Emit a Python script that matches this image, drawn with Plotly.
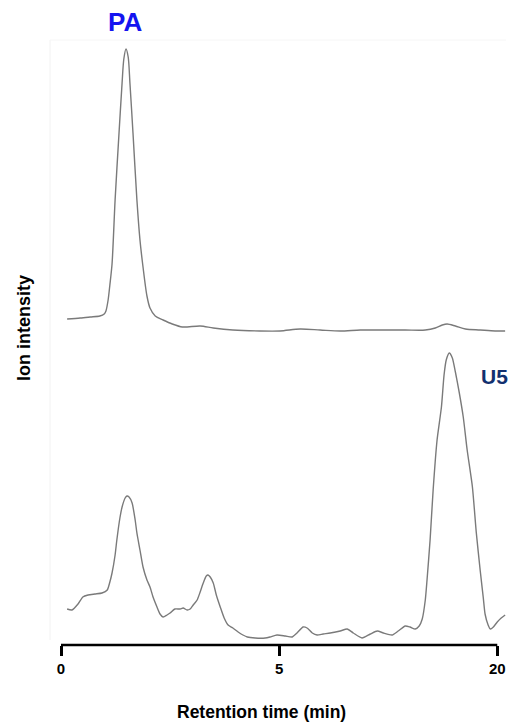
import plotly.graph_objects as go

# Retention time (axis units) and ion intensity for the PA standard trace
pa_time = [0.14, 0.44, 0.67, 0.89, 0.99, 1.03, 1.08, 1.12, 1.17, 1.24, 1.33, 1.40,
           1.44, 1.49, 1.54, 1.58, 1.65, 1.74, 1.81, 1.88, 1.97, 2.04, 2.16, 2.34,
           2.55, 2.78, 3.19, 3.49, 3.94, 4.56, 5.02, 5.48, 5.94, 6.40, 6.86, 7.32,
           7.89, 8.35, 8.58, 8.74, 8.85, 9.04, 9.27, 9.61, 9.95, 10.18]
pa_signal = [12, 13, 14, 15, 17, 20, 31, 46, 67, 131, 198, 248,
             272, 282, 274, 248, 198, 131, 91, 64, 35, 23, 15, 11,
             7, 4, 5, 3, 1, 0, 0, 2, 1, 0, 1, 1,
             1, 1, 3, 6, 7, 5, 2, 1, 0, 0]

# Retention time (axis units) and ion intensity for the U5 sample trace
u5_time = [0.14, 0.25, 0.39, 0.50, 0.62, 0.78, 0.94, 1.06, 1.12, 1.17, 1.24, 1.28,
           1.35, 1.40, 1.47, 1.51, 1.56, 1.63, 1.70, 1.74, 1.81, 1.88, 1.97, 2.04,
           2.11, 2.20, 2.27, 2.34, 2.43, 2.50, 2.61, 2.73, 2.80, 2.89, 2.96, 3.03,
           3.12, 3.19, 3.26, 3.33, 3.37, 3.42, 3.49, 3.56, 3.65, 3.74, 3.83, 3.94,
           4.06, 4.17, 4.27, 4.45, 4.68, 4.79, 4.95, 5.14, 5.30, 5.41, 5.55, 5.64,
           5.76, 5.87, 6.01, 6.17, 6.40, 6.56, 6.70, 6.90, 7.09, 7.25, 7.39, 7.59,
           7.73, 7.89, 8.00, 8.12, 8.21, 8.28, 8.35, 8.39, 8.46, 8.53, 8.62, 8.72,
           8.78, 8.83, 8.90, 8.97, 9.04, 9.13, 9.22, 9.31, 9.43, 9.52, 9.61, 9.68,
           9.72, 9.79, 9.84, 9.91, 10.00, 10.09, 10.18]
u5_signal = [36, 35, 41, 48, 50, 51, 52, 55, 63, 72, 90, 105,
             127, 138, 147, 149, 148, 142, 125, 112, 95, 78, 65, 58,
             48, 38, 31, 28, 30, 32, 36, 36, 37, 35, 36, 40,
             45, 53, 62, 69, 70, 68, 62, 50, 38, 27, 20, 17,
             13, 10, 8, 7, 7, 8, 10, 9, 8, 12, 18, 17,
             12, 10, 11, 12, 14, 16, 12, 7, 11, 14, 12, 10,
             14, 19, 18, 16, 19, 26, 45, 65, 105, 155, 205, 238,
             270, 285, 292, 287, 273, 252, 228, 195, 158, 112, 74, 47,
             31, 20, 16, 18, 23, 27, 30]

# Vertical stacking of the two chromatograms
pa_offset = 314
u5_offset = 0

tick_vals = [0, 5, 10]
tick_text = ["0", "5", "20"]

line_color = "#7a7a7a"

fig = go.Figure()
fig.add_trace(go.Scatter(
    x=pa_time, y=[v + pa_offset for v in pa_signal], mode="lines",
    line=dict(color=line_color, width=1.4, shape="spline", smoothing=0.8),
    showlegend=False, hoverinfo="skip"))
fig.add_trace(go.Scatter(
    x=u5_time, y=[v + u5_offset for v in u5_signal], mode="lines",
    line=dict(color=line_color, width=1.4, shape="spline", smoothing=0.6),
    showlegend=False, hoverinfo="skip"))

L, R, T, B = 61, 7, 40, 81
W, H = 513, 726
pw = W - L - R
ph = H - T - B

def px_x(px):
    return (px - L) / pw

def px_y(py):
    return (H - B - py) / ph

fig.update_layout(
    width=W, height=H,
    margin=dict(l=L, r=R, t=T, b=B, pad=0),
    plot_bgcolor="white", paper_bgcolor="white",
    font=dict(family="Arial, Liberation Sans, sans-serif", color="black"),
    xaxis=dict(
        range=[0, 10.2], showgrid=False, zeroline=False, showline=False,
        tickmode="array", tickvals=tick_vals, ticktext=tick_text,
        ticks="outside", ticklen=10, tickwidth=2.5, tickcolor="black",
        tickfont=dict(size=15, weight="bold", color="black"),
        fixedrange=True,
    ),
    yaxis=dict(
        range=[0, ph], showgrid=False, zeroline=False, showline=False,
        showticklabels=False, ticks="", fixedrange=True,
    ),
    shapes=[
        # x axis baseline, ending at the last tick
        dict(type="line", xref="x", yref="paper", x0=0, x1=10, y0=0, y1=0,
             line=dict(color="black", width=2.5)),
        # faint frame of the chromatogram panel
        dict(type="line", xref="paper", yref="paper", x0=px_x(50), x1=px_x(50),
             y0=px_y(40), y1=px_y(640), line=dict(color="#f2f2f2", width=1)),
        dict(type="line", xref="paper", yref="paper", x0=px_x(50), x1=1,
             y0=px_y(40), y1=px_y(40), line=dict(color="#f6f6f6", width=1)),
    ],
    annotations=[
        dict(text="PA", xref="paper", yref="paper", x=px_x(125), y=px_y(22),
             showarrow=False, xanchor="center", yanchor="middle",
             font=dict(size=26, weight="bold", color="#1414f0")),
        dict(text="U5", xref="paper", yref="paper", x=px_x(494), y=px_y(376),
             showarrow=False, xanchor="center", yanchor="middle",
             font=dict(size=21, weight="bold", color="#12306f")),
        dict(text="Ion intensity", xref="paper", yref="paper", x=px_x(24), y=px_y(328),
             showarrow=False, textangle=-90, xanchor="center", yanchor="middle",
             font=dict(size=18, weight="bold", color="black")),
        dict(text="Retention time (min)", xref="paper", yref="paper", x=px_x(261), y=px_y(712),
             showarrow=False, xanchor="center", yanchor="middle",
             font=dict(size=17.5, weight="bold", color="black")),
    ],
)

fig.write_html("out.html")
